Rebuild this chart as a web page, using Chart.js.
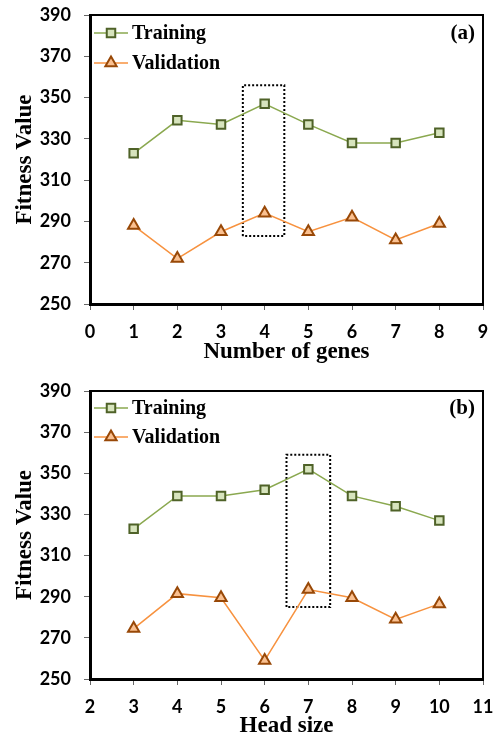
<!DOCTYPE html>
<html><head><meta charset="utf-8">
<script src="https://cdn.jsdelivr.net/npm/chart.js@4.4.1/dist/chart.umd.min.js"></script>
<style>html,body{margin:0;padding:0;background:#fff;width:496px;height:740px;overflow:hidden;}canvas{display:block;position:absolute;left:0;}</style>
</head><body>
<canvas id="c1" width="496" height="370" style="top:0"></canvas>
<canvas id="c2" width="496" height="370" style="top:370px"></canvas>
<script>
// ---- data ----
const genes = [1, 2, 3, 4, 5, 6, 7, 8];
const genesTraining = [323, 339, 337, 347, 337, 328, 328, 333];
const genesValidation = [288, 272, 285, 294, 285, 292, 281, 289];
const genesBoxX = [3.5, 4.45];
const genesBoxY = [283, 356];
const genesXRange = [0, 9];

const headSizes = [3, 4, 5, 6, 7, 8, 9, 10];
const headTraining = [323, 339, 339, 342, 352, 339, 334, 327];
const headValidation = [274.5, 291.5, 289.5, 259, 293.5, 289.5, 279, 286.5];
const headBoxX = [6.5, 7.5];
const headBoxY = [285, 359];
const headXRange = [2, 11];

const yRange = [250, 390];
const yStep = 20;
const seriesNames = ['Training', 'Validation'];

// ---- styles ----
const TR = {line: '#8aa84f', border: '#4f6228', fill: '#d7e4bd', style: 'rect', radius: 6};
const VA = {line: '#f7923f', border: '#984807', fill: '#fac090', style: 'triangle', radius: 6.5};
const tickFont = {family: 'Lato', weight: 'bold', size: 18};
const serifBold = {family: 'Liberation Serif', weight: 'bold', size: 23};

function pts(xs, ys) { return xs.map((x, i) => ({x: x, y: ys[i]})); }
function boxPts(bx, by) {
  return [{x: bx[0], y: by[0]}, {x: bx[0], y: by[1]}, {x: bx[1], y: by[1]}, {x: bx[1], y: by[0]}, {x: bx[0], y: by[0]}];
}
function noPad(s) { s.paddingTop = 0; s.paddingBottom = 0; s.paddingLeft = 0; s.paddingRight = 0; }

const framePlugin = {
  id: 'frame',
  afterDatasetsDraw(chart, args, opts) {
    const {ctx, chartArea: a} = chart;
    ctx.save();
    ctx.strokeStyle = '#000';
    ctx.lineWidth = 2;
    ctx.beginPath();
    ctx.moveTo(a.left, a.top); ctx.lineTo(a.right, a.top); ctx.lineTo(a.right, a.bottom);
    ctx.stroke();
    // legend
    const rows = [[TR, seriesNames[0], opts.ly[0]], [VA, seriesNames[1], opts.ly[1]]];
    rows.forEach(([s, name, y]) => {
      const x0 = a.left + 4, x1 = a.left + 38, xm = (x0 + x1) / 2;
      ctx.strokeStyle = s.line; ctx.lineWidth = 1.5;
      ctx.beginPath(); ctx.moveTo(x0, y); ctx.lineTo(x1, y); ctx.stroke();
      ctx.fillStyle = s.fill; ctx.strokeStyle = s.border; ctx.lineWidth = 2;
      Chart.helpers.drawPoint(ctx, {pointStyle: s.style, radius: s.radius, rotation: 0, borderWidth: 2}, xm, y);
      ctx.fillStyle = '#000';
      ctx.font = 'bold 20px "Liberation Serif"';
      ctx.textBaseline = 'middle'; ctx.textAlign = 'left';
      ctx.fillText(name, x1 + 4, y + 1);
    });
    ctx.font = 'bold 21px "Liberation Serif"';
    ctx.textAlign = 'right';
    ctx.fillText(opts.label, a.right - 8, opts.ly[0] + 1);
    ctx.restore();
  }
};

function makeChart(id, xs, tr, va, bx, by, xr, xTitle, label, padTop, xh, titlePadBottom, ly) {
  return new Chart(document.getElementById(id), {
    type: 'line',
    data: {
      datasets: [
        {label: seriesNames[0], data: pts(xs, tr), borderColor: TR.line, borderWidth: 1.5,
         pointStyle: TR.style, pointRadius: TR.radius, pointBorderWidth: 2,
         pointBackgroundColor: TR.fill, pointBorderColor: TR.border, tension: 0, order: 1},
        {label: seriesNames[1], data: pts(xs, va), borderColor: VA.line, borderWidth: 1.5,
         pointStyle: VA.style, pointRadius: VA.radius, pointBorderWidth: 2,
         pointBackgroundColor: VA.fill, pointBorderColor: VA.border, tension: 0, order: 1},
        {label: 'box', data: boxPts(bx, by), borderColor: '#000', borderWidth: 2,
         borderDash: [2, 2], pointRadius: 0, fill: false, tension: 0, order: 2}
      ]
    },
    options: {
      responsive: false, animation: false, devicePixelRatio: 1,
      layout: {padding: {top: padTop, right: 13, left: 0, bottom: 0}},
      plugins: {legend: {display: false}, tooltip: {enabled: false},
                frame: {label: label, ly: ly}},
      scales: {
        x: {type: 'linear', min: xr[0], max: xr[1],
            ticks: {stepSize: 1, color: '#000', font: tickFont, padding: 11, maxRotation: 0},
            grid: {drawOnChartArea: false, drawTicks: true, tickLength: 6, tickColor: '#666', tickWidth: 1},
            border: {display: true, color: '#000', width: 3},
            title: {display: true, text: xTitle, color: '#000', font: serifBold, padding: {top: 0, bottom: titlePadBottom}},
            afterFit: s => { s.height = xh; noPad(s); }},
        y: {min: yRange[0], max: yRange[1],
            ticks: {stepSize: yStep, color: '#000', font: tickFont, padding: 13},
            grid: {drawOnChartArea: false, drawTicks: true, tickLength: 6, tickColor: '#666', tickWidth: 1},
            border: {display: true, color: '#000', width: 3},
            title: {display: true, text: 'Fitness Value', color: '#000', font: serifBold, padding: {top: 11, bottom: 11}},
            afterFit: s => { s.width = 90; noPad(s); }}
      }
    },
    plugins: [framePlugin]
  });
}

makeChart('c1', genes, genesTraining, genesValidation, genesBoxX, genesBoxY, genesXRange,
          'Number of genes', '(a)', 15, 66, 4, [33, 63]);
makeChart('c2', headSizes, headTraining, headValidation, headBoxX, headBoxY, headXRange,
          'Head size', '(b)', 21, 61, 0, [38, 67]);
</script>
</body></html>
